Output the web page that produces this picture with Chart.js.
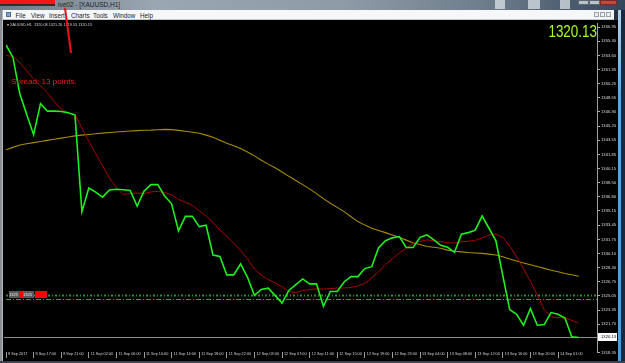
<!DOCTYPE html>
<html>
<head>
<meta charset="utf-8">
<title>XAUUSD,H1</title>
<script src="https://cdn.jsdelivr.net/npm/chart.js@4.4.1/dist/chart.umd.min.js"></script>
<style>
  html, body { margin: 0; padding: 0; }
  body { width: 625px; height: 363px; position: relative; overflow: hidden; background: #2a3340; font-family: "Liberation Sans", Arial, sans-serif; }
  .abs { position: absolute; }
  #desk { left: 0; top: 0; width: 625px; height: 10px; background: linear-gradient(90deg, #6f7c88 0%, #9aa6b1 25%, #8e9ba7 55%, #6b7a89 80%, #34465c 100%); }
  #redbar { left: 0; top: 0; width: 55px; height: 4px; background: #ff1414; border-bottom: 2px solid #3b2a2a; }
  #wintitle { left: 58px; top: 1px; font-size: 6.5px; color: #1e1e1e; white-space: nowrap; }
  .dico { top: 0; height: 9px; background: #e4e9ee; opacity: .7; }
  .wbtn { top: 0; height: 5px; border: 1px solid #5d6670; box-sizing: border-box; background: #b9c2cb; }
  #menubar { left: 3px; top: 10px; width: 611px; height: 10px; background: #f6f7f8; border-bottom: 1px solid #c4c7cb; box-sizing: border-box; }
  #menubar span { position: absolute; top: 1.5px; font-size: 6.3px; color: #1a1a1a; }
  .mbtn { top: 12px; width: 5px; height: 5px; border: 1px solid #9aa0a6; box-sizing: border-box; background: #eceef0; }
  #chart { left: 0; top: 20px; background: #000; }
  #frameL { left: 0; top: 10px; width: 3px; height: 353px; background: linear-gradient(90deg, #8a8f95 0 2px, #b4b7ba 2px 3px); }
  #stripR { left: 618px; top: 10px; width: 3px; height: 353px; background: linear-gradient(#b5d3ec, #5aa6dc 25%, #4d9bd6); }
  #darkR { left: 621px; top: 10px; width: 4px; height: 353px; background: #1a2a3e; }
  #bottom { left: 0; top: 361px; width: 625px; height: 2px; background: #3b4350; }
  #header { left: 7px; top: 22px; font-size: 3.8px; color: #cfcfcf; white-space: nowrap; }
  #bigprice { left: 520px; top: 24px; width: 77px; text-align: right; font-size: 16px; line-height: 16px; color: #a6ff1e; transform: scaleX(0.84); transform-origin: right top; }
  #spread { left: 11px; top: 77px; font-size: 8.1px; color: #ff1a1a; white-space: nowrap; }
  .tag { top: 291px; height: 7px; font-size: 4px; line-height: 7px; color: #e6e6e6; overflow: hidden; }
</style>
</head>
<body>
<div class="abs" id="desk"></div>
<div class="abs" id="redbar"></div>
<div class="abs" id="wintitle">ive02 - [XAUUSD,H1]</div>
<div class="abs dico" style="left:495px;width:10px"></div>
<div class="abs dico" style="left:528px;width:12px"></div>
<div class="abs dico" style="left:560px;width:10px"></div>
<div class="abs wbtn" style="left:578px;width:11px"></div>
<div class="abs wbtn" style="left:589px;width:11px"></div>
<div class="abs wbtn" style="left:600px;width:17px;background:#c9463d;border-color:#7a2a24"></div>

<div class="abs" id="menubar">
  <span style="left:3px;top:2px;width:5px;height:5px;background:#7fa6cf;border:1px solid #4a6f99;box-sizing:border-box"></span>
  <span style="left:12.5px">File</span>
  <span style="left:28px">View</span>
  <span style="left:46px">Insert</span>
  <span style="left:68px">Charts</span>
  <span style="left:90px">Tools</span>
  <span style="left:110px">Window</span>
  <span style="left:137px">Help</span>
</div>
<div class="abs mbtn" style="left:594px"></div>
<div class="abs mbtn" style="left:600px"></div>
<div class="abs mbtn" style="left:606px"></div>

<canvas class="abs" id="chart" width="618" height="341"></canvas>

<div class="abs" id="frameL"></div>
<div class="abs" id="stripR"></div>
<div class="abs" id="darkR"></div>
<div class="abs" id="bottom"></div>

<div class="abs" id="header">&#9662; XAUUSD,H1&nbsp; 1320.08 1321.26 1319.53 1320.13</div>
<div class="abs" id="bigprice">1320.13</div>
<div class="abs" id="spread">Spread: 13 points.</div>
<div class="abs tag" style="left:9px;width:10px;background:#5a5a5a">1325</div>
<div class="abs tag" style="left:19px;width:4px;background:#ff0000"></div>
<div class="abs tag" style="left:23px;width:11px;background:#5a5a5a">1325</div>
<div class="abs tag" style="left:35px;width:12px;background:#ff0000"></div>

<svg class="abs" style="left:0;top:0" width="625" height="363">
  <line x1="65" y1="8" x2="71" y2="53" stroke="#e8141a" stroke-width="2"/>
</svg>

<script>
// XAUUSD H1, 8 Sep 2017 13:00 -> 14 Sep 2017 04:00 (84 bars)
const timeLabels = ['8 Sep 2017', '8 Sep 17:00', '8 Sep 21:00', '11 Sep 02:00', '11 Sep 06:00',
  '11 Sep 10:00', '11 Sep 14:00', '11 Sep 18:00', '11 Sep 22:00', '12 Sep 03:00', '12 Sep 07:00',
  '12 Sep 11:00', '12 Sep 15:00', '12 Sep 19:00', '12 Sep 23:00', '13 Sep 04:00', '13 Sep 08:00',
  '13 Sep 12:00', '13 Sep 16:00', '13 Sep 20:00', '14 Sep 01:00'];

const priceTicks = [1356.95, 1355.30, 1353.60, 1351.95, 1350.25, 1348.55, 1346.90, 1345.20,
  1343.55, 1341.85, 1340.15, 1338.50, 1336.80, 1335.15, 1333.45, 1331.75, 1330.10, 1328.40,
  1326.75, 1325.05, 1323.35, 1321.70, 1320.00, 1318.35];

// close prices (line chart)
const closePrices = [1354.84, 1353.39, 1349.06, 1346.60, 1344.20, 1347.89, 1346.99, 1346.99, 1346.95, 1346.79,
  1346.52, 1335.05, 1337.87, 1337.37, 1336.78, 1337.64, 1337.72, 1337.66, 1337.57, 1335.72,
  1337.49, 1338.27, 1338.27, 1336.90, 1335.99, 1332.77, 1334.50, 1334.50, 1333.28, 1333.44,
  1329.91, 1329.75, 1327.55, 1327.55, 1328.85, 1327.27, 1325.12, 1325.82, 1325.98, 1325.12,
  1324.21, 1325.71, 1326.41, 1327.07, 1326.49, 1326.49, 1323.82, 1325.59, 1325.59, 1326.71,
  1327.35, 1327.35, 1328.30, 1328.53, 1330.77, 1331.60, 1331.95, 1332.10, 1330.81, 1330.81,
  1332.01, 1332.30, 1331.71, 1331.07, 1330.83, 1330.23, 1332.38, 1332.57, 1332.86, 1334.54,
  1333.09, 1331.60, 1327.47, 1323.43, 1322.88, 1321.58, 1323.55, 1321.58, 1321.66, 1323.08,
  1322.88, 1322.44, 1320.20, 1320.13];

// fast moving average (dark red)
const maFast = [1353.59, 1353.51, 1352.74, 1351.77, 1350.80, 1350.00, 1349.18, 1348.12, 1347.22, 1346.81,
  1346.59, 1344.98, 1343.40, 1341.93, 1340.49, 1339.05, 1337.91, 1337.10, 1337.23, 1337.26,
  1337.21, 1337.40, 1337.46, 1337.33, 1337.05, 1336.51, 1336.18, 1335.81, 1335.18, 1334.56,
  1333.77, 1332.87, 1332.15, 1331.32, 1330.44, 1329.44, 1328.25, 1327.53, 1327.00, 1326.59,
  1326.14, 1325.59, 1325.45, 1325.71, 1325.82, 1325.89, 1325.87, 1325.92, 1325.99, 1326.00,
  1326.06, 1326.25, 1326.53, 1327.20, 1327.91, 1328.77, 1329.47, 1330.16, 1330.71, 1331.27,
  1331.50, 1331.71, 1331.60, 1331.50, 1331.36, 1331.34, 1331.49, 1331.55, 1331.64, 1331.95,
  1332.28, 1332.37, 1332.01, 1330.96, 1329.70, 1328.29, 1326.80, 1325.15, 1323.43, 1322.58,
  1322.49, 1322.44, 1322.16, 1321.82];

// slow moving average (gold)
const maSlow = [1342.40, 1342.69, 1342.97, 1343.12, 1343.25, 1343.39, 1343.52, 1343.66, 1343.79, 1343.92,
  1344.05, 1344.14, 1344.22, 1344.31, 1344.38, 1344.45, 1344.52, 1344.58, 1344.64, 1344.68,
  1344.72, 1344.74, 1344.78, 1344.82, 1344.79, 1344.71, 1344.60, 1344.48, 1344.36, 1344.14,
  1343.89, 1343.54, 1343.17, 1342.87, 1342.56, 1342.15, 1341.68, 1341.16, 1340.70, 1340.27,
  1339.77, 1339.25, 1338.76, 1338.27, 1337.76, 1337.20, 1336.60, 1336.05, 1335.57, 1335.06,
  1334.45, 1333.88, 1333.46, 1333.10, 1332.83, 1332.57, 1332.28, 1332.01, 1331.68, 1331.34,
  1331.17, 1330.92, 1330.83, 1330.72, 1330.49, 1330.36, 1330.28, 1330.21, 1330.16, 1330.11,
  1330.02, 1329.92, 1329.70, 1329.45, 1329.20, 1328.96, 1328.76, 1328.54, 1328.33, 1328.11,
  1327.92, 1327.72, 1327.57, 1327.40];

const levels = [1325.12, 1324.73];
const lastPrice = 1320.13;

Chart.defaults.font.family = '"Liberation Sans", Arial, sans-serif';

const toPoints = arr => arr.map((v, i) => ({ x: i, y: v }));

// horizontal levels, bid line and price box on the axis
const overlay = {
  id: 'overlay',
  beforeDatasetsDraw(chart) {
    const { ctx, chartArea: a, scales: { y } } = chart;
    ctx.save();
    levels.forEach((lv, i) => {
      const py = Math.round(y.getPixelForValue(lv)) + 0.5;
      ctx.strokeStyle = i === 0 ? '#2f8a2f' : '#3a9a3a';
      ctx.lineWidth = i === 0 ? 2 : 1;
      ctx.setLineDash(i === 0 ? [2, 2, 1, 2] : [5, 2, 1, 2]);
      ctx.beginPath();
      ctx.moveTo(a.left, py);
      ctx.lineTo(a.right, py);
      ctx.stroke();
    });
    ctx.setLineDash([]);
    const by = Math.round(y.getPixelForValue(lastPrice)) + 0.5;
    ctx.strokeStyle = '#8c8c8c';
    ctx.lineWidth = 1;
    ctx.beginPath();
    ctx.moveTo(a.left - 2, by);
    ctx.lineTo(a.right, by);
    ctx.stroke();
    ctx.restore();
  },
  afterDraw(chart) {
    const { ctx, chartArea: a, scales: { y } } = chart;
    const by = Math.round(y.getPixelForValue(lastPrice));
    ctx.save();
    ctx.fillStyle = '#ffffff';
    ctx.fillRect(a.right + 1, by - 4, 19, 8);
    ctx.fillStyle = '#000000';
    ctx.font = '4.2px "Liberation Sans", Arial, sans-serif';
    ctx.textBaseline = 'middle';
    ctx.fillText(lastPrice.toFixed(2), a.right + 4, by);
    ctx.restore();
  }
};

new Chart(document.getElementById('chart'), {
  type: 'line',
  data: {
    datasets: [
      { label: 'XAUUSD,H1', data: toPoints(closePrices), borderColor: '#1ef01e', borderWidth: 1.6, pointRadius: 0, tension: 0 },
      { label: 'MA fast', data: toPoints(maFast), borderColor: '#a80000', borderWidth: 1, pointRadius: 0, tension: 0 },
      { label: 'MA slow', data: toPoints(maSlow), borderColor: '#a88c00', borderWidth: 1.1, pointRadius: 0, tension: 0 }
    ]
  },
  options: {
    responsive: false,
    animation: false,
    devicePixelRatio: 1,
    layout: { padding: { left: 6, top: 1, right: 0, bottom: 0 } },
    plugins: { legend: { display: false }, tooltip: { enabled: false } },
    scales: {
      x: {
        type: 'linear',
        min: 0,
        max: 85.65,
        afterBuildTicks: s => { s.ticks = timeLabels.map((_, i) => ({ value: i * 4 })); },
        afterFit: s => { s.height = 9; },
        ticks: {
          callback: v => timeLabels[v / 4],
          autoSkip: false,
          maxRotation: 0,
          align: 'start',
          labelOffset: 2,
          padding: -6,
          color: '#d0d0d0',
          font: { size: 3.8 }
        },
        grid: { drawOnChartArea: false, drawTicks: true, tickLength: 6, color: '#9a9a9a' },
        border: { display: false }
      },
      y: {
        position: 'right',
        min: 1318.40,
        max: 1357.39,
        afterBuildTicks: s => { s.ticks = priceTicks.map(v => ({ value: v })); },
        afterFit: s => { s.width = 21; },
        ticks: {
          callback: v => v.toFixed(2),
          autoSkip: false,
          padding: 1,
          color: '#d8d8d8',
          font: { size: 4.2 }
        },
        grid: { drawOnChartArea: false, drawTicks: true, tickLength: 3, color: '#b0b0b0' },
        border: { color: '#a0a0a0' }
      }
    }
  },
  plugins: [overlay]
});
</script>
</body>
</html>
